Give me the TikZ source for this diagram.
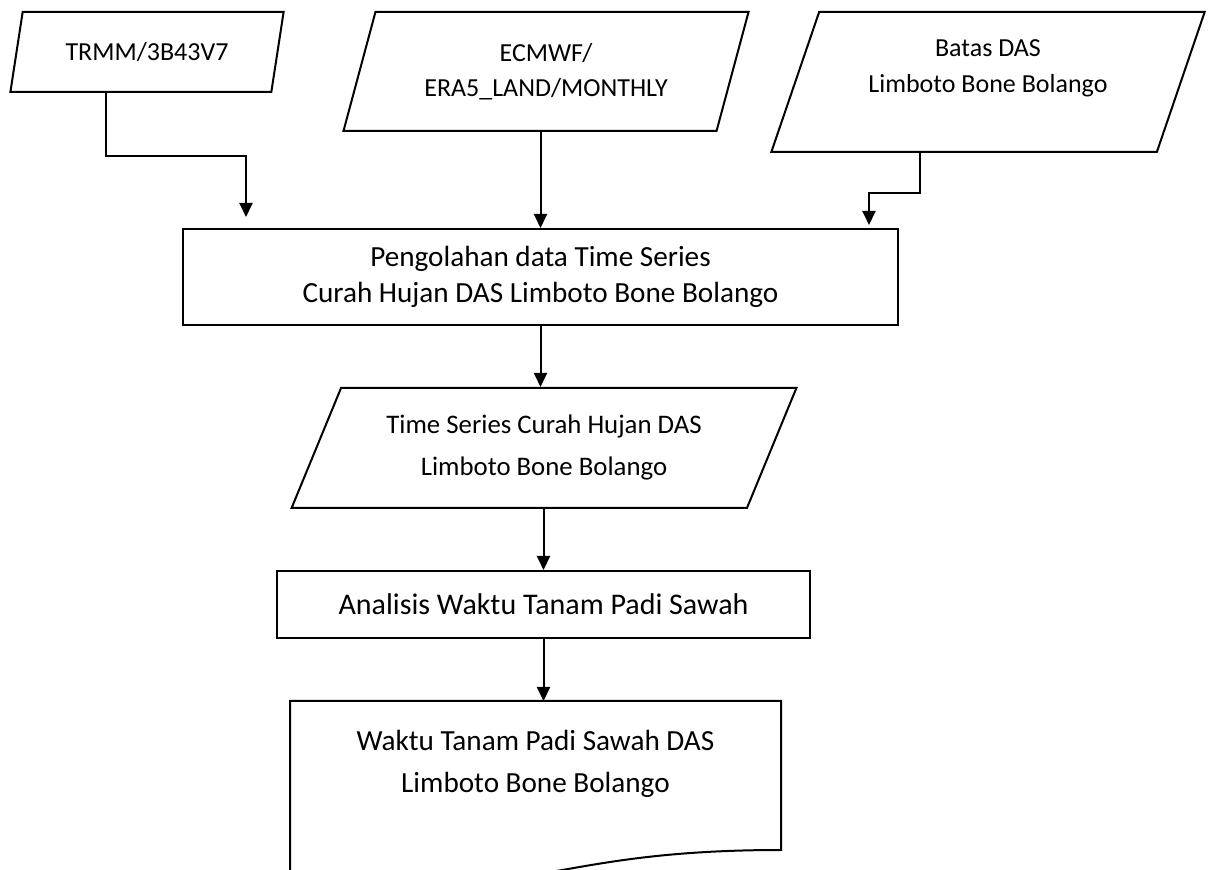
\documentclass[tikz,border=0pt]{standalone}
\usepackage{fontspec}
\setmainfont{Carlito}
\usetikzlibrary{positioning, arrows.meta, shapes.geometric, calc}

\begin{document}
\begin{tikzpicture}[x=0.5pt, y=-0.5pt, line width=1pt,
    >={Triangle[length=7pt, width=6.5pt]},
    dados/.style 2 args={draw, trapezium,
        trapezium left angle=#1, trapezium right angle=#2,
        trapezium stretches=true, align=center},
    proses/.style={draw, rectangle, align=center}]
    \useasboundingbox (0,0) rectangle (1210,870);

    % data masukan
    \node [dados={75}{105},
        minimum width=137pt,
        minimum height=40pt,
        font=\fontsize{13}{18}\selectfont
    ] (trmm) at (147,52) {TRMM/3B43V7};

    \node [dados={71}{109},
        minimum width=203pt,
        minimum height=59.5pt,
        font=\fontsize{13}{17.5}\selectfont
    ] (ecmwf) at (546,71.5) {ECMWF/\\ERA5\_LAND/MONTHLY};

    \node [dados={70}{110},
        minimum width=217pt,
        minimum height=70pt,
        text depth=16pt,
        font=\fontsize{13}{18}\selectfont
    ] (batas) at (988,82) {Batas DAS\\Limboto Bone Bolango};

    % pengolahan
    \node [proses,
        minimum width=357.5pt,
        minimum height=48pt,
        font=\fontsize{14.6}{18}\selectfont
    ] (pengolahan) at (540.5,277) {Pengolahan data Time Series\\Curah Hujan DAS Limboto Bone Bolango};

    \node [dados={63}{117},
        minimum width=253pt,
        minimum height=60pt,
        font=\fontsize{13.4}{21}\selectfont
    ] (timeseries) at (544,448) {Time Series Curah Hujan DAS\\Limboto Bone Bolango};

    \node [proses,
        minimum width=266.5pt,
        minimum height=33.5pt,
        font=\fontsize{15}{18}\selectfont
    ] (analisis) at (543.5,604.5) {Analisis Waktu Tanam Padi Sawah};

    % dokumen hasil
    \node [align=center,
        minimum width=244.5pt,
        minimum height=62pt,
        font=\fontsize{14.6}{21}\selectfont
    ] (waktu) at (535.5,764) {Waktu Tanam Padi Sawah DAS\\Limboto Bone Bolango};
    \draw (waktu.south west) ++(0,50) -- (waktu.north west) -- (waktu.north east)
        -- ++(0,149) .. controls ++(-244.5,0) and ++(244.5,32) .. ++(-489,25);

    % panah
    \draw [->] ($(trmm.south)+(-41,0)$) -- ++(0,63) -| ($(pengolahan.north west)+(64,-11)$);
    \draw [->] (ecmwf.south -| pengolahan.north) -- (pengolahan.north);
    \draw [->] ($(batas.south)+(-68,0)$) -- ++(0,40) -| ($(pengolahan.north east)+(-30,-3)$);
    \draw [->] (pengolahan.south) -- (pengolahan.south |- timeseries.north);
    \draw [->] (timeseries.south -| analisis.north) -- (analisis.north);
    \draw [->] (analisis.south) -- (analisis.south |- waktu.north);

\end{tikzpicture}
\end{document}
